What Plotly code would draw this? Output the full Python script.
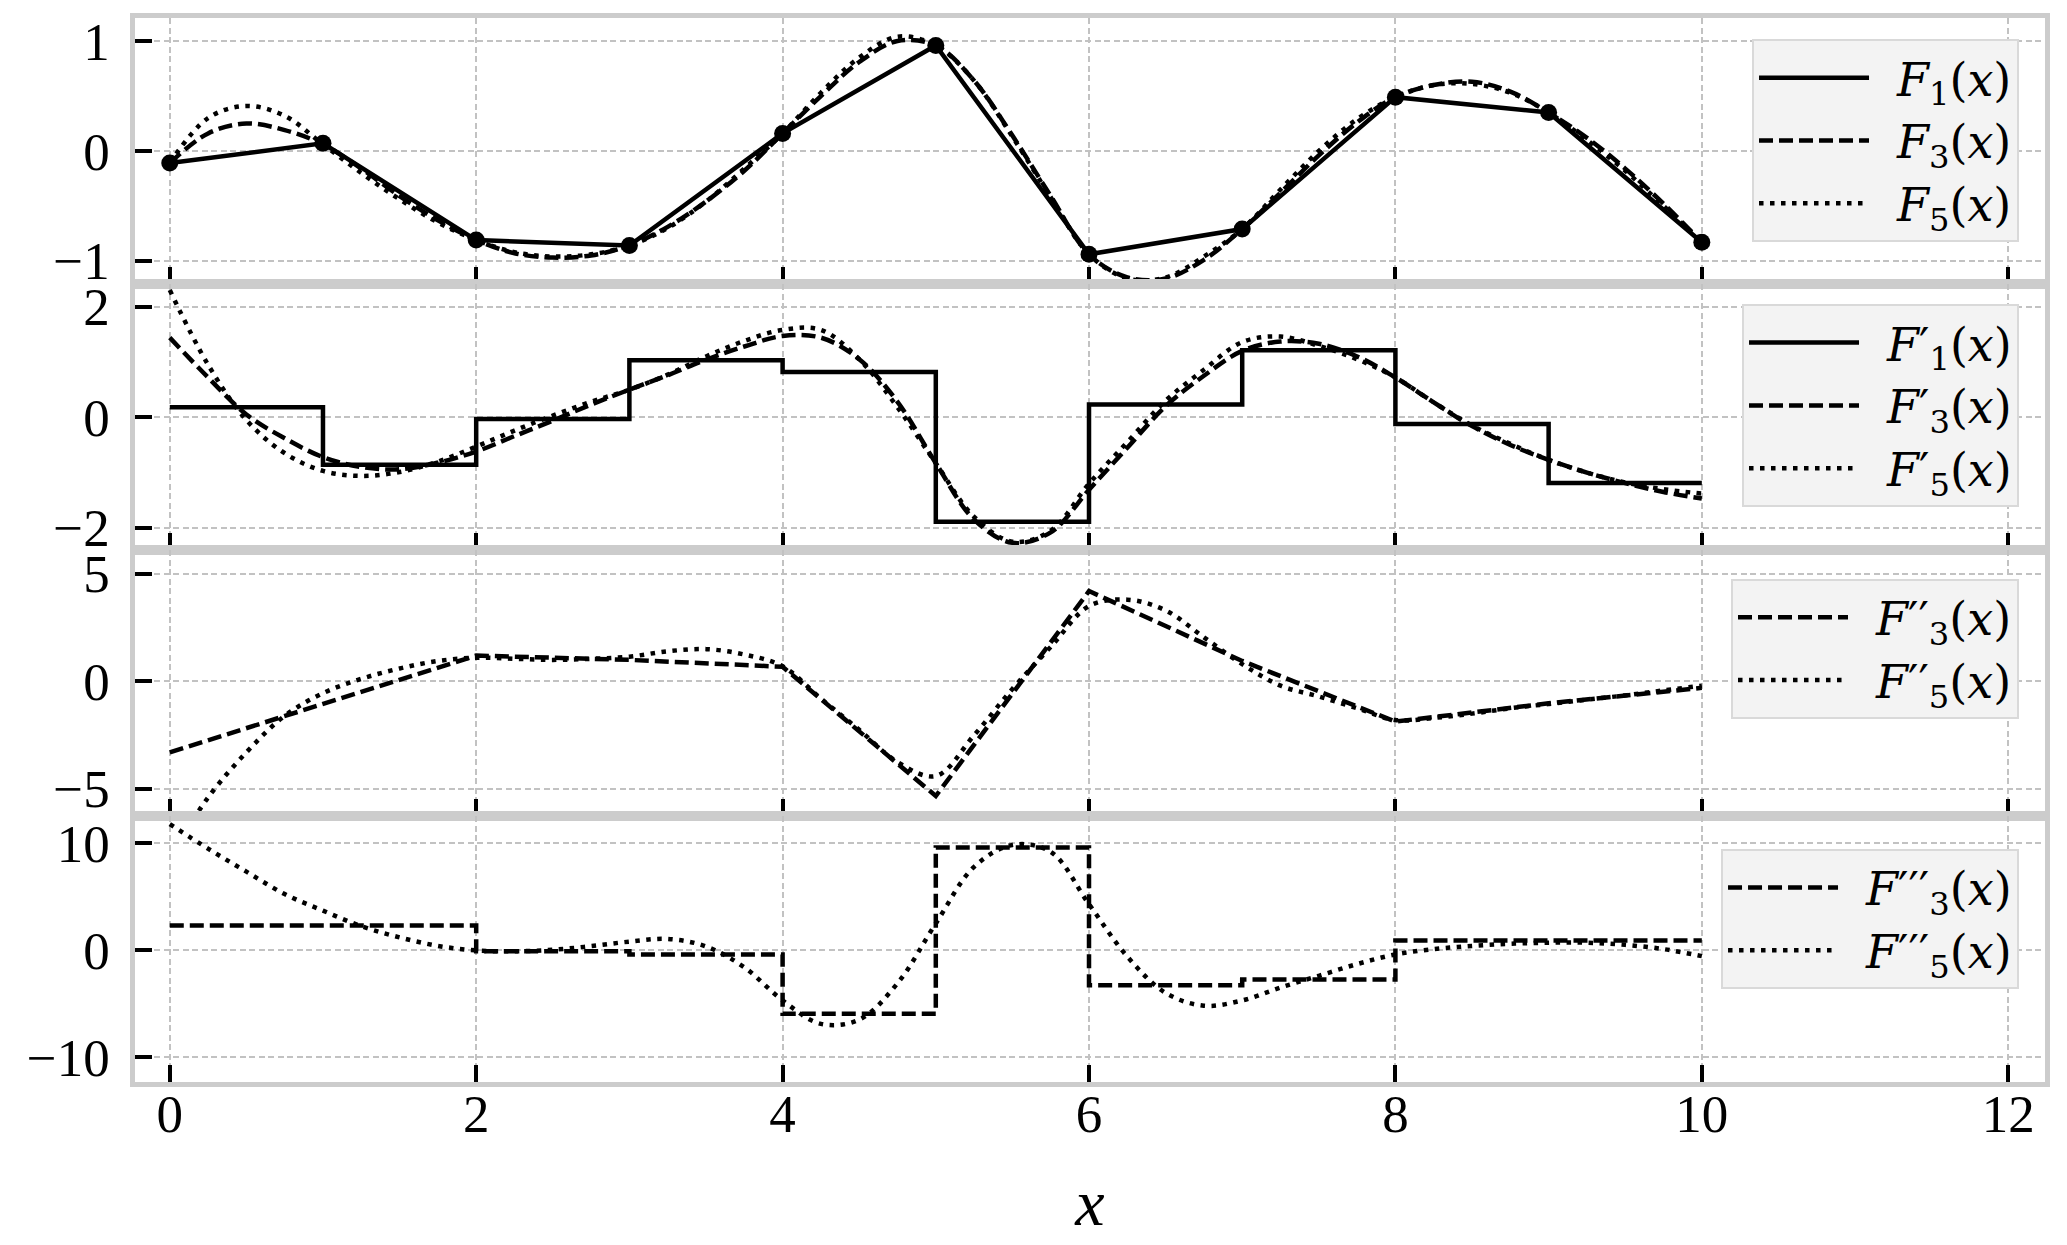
import plotly.graph_objects as go
from plotly.subplots import make_subplots

FONT = "Liberation Serif, DejaVu Serif, serif"
LEGEND_FONT = "DejaVu Serif, serif"
FS = 53
SPINE = "#cccccc"
GRID = "#c2c2c2"
LW = 4.5
DASH = "14px,6px"
DOT = "4.5px,6.5px"

# sample points and piecewise-linear interpolant
X_PTS = [0, 1, 2, 3, 4, 5, 6, 7, 8, 9, 10]
Y_PTS = [-0.11, 0.07, -0.81, -0.86, 0.16, 0.96, -0.94, -0.71, 0.49, 0.35, -0.83]

X_FINE = [0, 0.25, 0.5, 0.75, 1, 1.25, 1.5, 1.75, 2, 2.25, 2.5, 2.75, 3, 3.25,
          3.5, 3.75, 4, 4.25, 4.5, 4.75, 5, 5.25, 5.5, 5.75, 6, 6.25, 6.5,
          6.75, 7, 7.25, 7.5, 7.75, 8, 8.25, 8.5, 8.75, 9, 9.25, 9.5, 9.75, 10]

F3 = [-0.11, 0.16, 0.25, 0.19, 0.06, -0.16, -0.41, -0.63, -0.81, -0.93, -0.97,
      -0.95, -0.86, -0.69, -0.46, -0.18, 0.16, 0.50, 0.81, 1.0, 0.96, 0.64,
      0.14, -0.41, -0.94, -1.15, -1.16, -0.99, -0.71, -0.38, -0.04, 0.26, 0.49,
      0.60, 0.63, 0.54, 0.35, 0.12, -0.16, -0.48, -0.83]
F5 = [-0.11, 0.30, 0.41, 0.32, 0.06, -0.20, -0.44, -0.65, -0.81, -0.92, -0.96,
      -0.94, -0.86, -0.70, -0.46, -0.16, 0.16, 0.53, 0.85, 1.04, 0.96, 0.64,
      0.13, -0.42, -0.94, -1.16, -1.15, -0.96, -0.71, -0.35, 0.0, 0.29, 0.49,
      0.60, 0.61, 0.53, 0.35, 0.10, -0.18, -0.50, -0.83]

# first derivatives
D1_F1 = [0.18, -0.86, -0.03, 1.03, 0.82, -1.89, 0.23, 1.21, -0.12, -1.19, -1.19]
D1_F3 = [1.44, 0.72, 0.05, -0.38, -0.72, -0.90, -0.94, -0.82, -0.62, -0.34,
         -0.06, 0.23, 0.50, 0.76, 1.04, 1.28, 1.47, 1.44, 1.05, 0.28, -0.83,
         -1.85, -2.27, -2.08, -1.31, -0.55, 0.20, 0.75, 1.20, 1.37, 1.33, 1.10,
         0.72, 0.27, -0.16, -0.50, -0.77, -1.00, -1.19, -1.35, -1.47]
D1_F5 = [2.30, 0.95, -0.05, -0.65, -0.97, -1.06, -0.99, -0.80, -0.53, -0.24,
         0.03, 0.28, 0.50, 0.77, 1.10, 1.38, 1.58, 1.58, 1.05, 0.18, -0.83,
         -1.80, -2.25, -2.05, -1.20, -0.45, 0.30, 0.86, 1.36, 1.46, 1.29, 1.05,
         0.72, 0.27, -0.15, -0.48, -0.77, -1.00, -1.18, -1.30, -1.38]

# second derivatives
D2_F3 = [-3.30, -1.05, 1.20, 1.00, 0.68, -5.33, 4.20, 0.95, -1.87, -1.02, -0.30]
D2_F5 = [-8.2, -5.4, -3.3, -1.6, -0.55, 0.12, 0.60, 0.95, 1.10, 1.05, 1.0,
         1.05, 1.15, 1.40, 1.50, 1.25, 0.70, -0.80, -2.25, -3.75, -4.40, -2.50,
         -0.35, 1.60, 3.50, 3.80, 3.30, 2.05, 0.80, -0.20, -0.70, -1.25, -1.80,
         -1.70, -1.50, -1.25, -1.05, -0.85, -0.65, -0.42, -0.20]

# third derivatives
D3_F3 = [2.30, 2.30, -0.10, -0.40, -5.94, 9.60, -3.28, -2.75, 0.90, 0.90, 0.90]
D3_F5 = [11.8, 9.5, 7.35, 5.25, 3.70, 2.25, 1.20, 0.40, -0.02, -0.10, 0.04,
         0.38, 0.80, 1.05, 0.35, -1.60, -4.70, -6.90, -6.50, -3.10, 2.50, 7.80,
         9.85, 9.20, 4.30, -0.60, -4.00, -5.20, -4.70, -3.50, -2.40, -1.30,
         -0.40, 0.10, 0.40, 0.60, 0.70, 0.70, 0.50, 0.10, -0.56]

fig = make_subplots(rows=4, cols=1, shared_xaxes=True, vertical_spacing=0.0)

SP = "\u2002"  # gap between legend sample and label


def add_line(x, y, row, name, dash, shape, legend):
    fig.add_trace(
        go.Scatter(
            x=x,
            y=y,
            mode="lines",
            name=SP + name,
            line=dict(color="black", width=LW, dash=dash, shape=shape),
            legend=legend,
        ),
        row=row,
        col=1,
    )


# panel 1: interpolants
add_line(X_PTS, Y_PTS, 1, "<i>F</i><sub>1</sub>(<i>x</i>)", "solid", "linear", "legend")
add_line(X_FINE, F3, 1, "<i>F</i><sub>3</sub>(<i>x</i>)", DASH, "spline", "legend")
add_line(X_FINE, F5, 1, "<i>F</i><sub>5</sub>(<i>x</i>)", DOT, "spline", "legend")
fig.add_trace(
    go.Scatter(
        x=X_PTS,
        y=Y_PTS,
        mode="markers",
        marker=dict(color="black", size=17),
        showlegend=False,
    ),
    row=1,
    col=1,
)

# panel 2: first derivatives
add_line(X_PTS, D1_F1, 2, "<i>F</i>\u2032<sub>1</sub>(<i>x</i>)", "solid", "hv", "legend2")
add_line(X_FINE, D1_F3, 2, "<i>F</i>\u2032<sub>3</sub>(<i>x</i>)", DASH, "spline", "legend2")
add_line(X_FINE, D1_F5, 2, "<i>F</i>\u2032<sub>5</sub>(<i>x</i>)", DOT, "spline", "legend2")

# panel 3: second derivatives
add_line(X_PTS, D2_F3, 3, "<i>F</i>\u2032\u2032<sub>3</sub>(<i>x</i>)", DASH, "linear", "legend3")
add_line(X_FINE, D2_F5, 3, "<i>F</i>\u2032\u2032<sub>5</sub>(<i>x</i>)", DOT, "spline", "legend3")

# panel 4: third derivatives
add_line(X_PTS, D3_F3, 4, "<i>F</i>\u2032\u2032\u2032<sub>3</sub>(<i>x</i>)", DASH, "hv", "legend4")
add_line(X_FINE, D3_F5, 4, "<i>F</i>\u2032\u2032\u2032<sub>5</sub>(<i>x</i>)", DOT, "spline", "legend4")

axis_style = dict(
    showline=True,
    mirror=True,
    linecolor=SPINE,
    linewidth=4.5,
    showgrid=True,
    gridcolor=GRID,
    gridwidth=2,
    griddash="6px,3.5px",
    zeroline=False,
    automargin=False,
    ticks="inside",
    ticklen=17,
    tickwidth=3.5,
    tickcolor="black",
    tickfont=dict(family=FONT, size=FS, color="black"),
)

fig.update_xaxes(**axis_style, range=[-0.227, 12.24], dtick=2, tick0=0)
for r in (1, 2, 3):
    fig.update_xaxes(showticklabels=False, row=r, col=1)
fig.update_xaxes(
    row=4,
    col=1,
    ticklabelstandoff=-18,
    title=dict(text="<i>x</i>", font=dict(family=FONT, size=66, color="black"), standoff=38),
)

Y_RANGES = [[-1.21, 1.21], [-2.40, 2.41], [-6.26, 6.11], [-12.34, 12.56]]
Y_DTICKS = [1, 2, 5, 10]
for r in range(4):
    fig.update_yaxes(
        **axis_style,
        range=Y_RANGES[r],
        dtick=Y_DTICKS[r],
        tick0=0,
        ticklabelstandoff=10,
        row=r + 1,
        col=1,
    )

legend_style = dict(
    xref="paper",
    yref="paper",
    x=0.9864,
    xanchor="right",
    yanchor="top",
    bgcolor="#f3f3f3",
    bordercolor="#d9d9d9",
    borderwidth=2,
    itemwidth=110,
    font=dict(family=LEGEND_FONT, size=46, color="black"),
)

# the page body adds an 8px offset, so the margins are shifted to compensate
fig.update_layout(
    template="plotly_white",
    width=2067,
    height=1245,
    margin=dict(l=127, r=30, t=10, b=171),
    plot_bgcolor="white",
    paper_bgcolor="white",
    font=dict(family=FONT, color="black"),
    legend=dict(**legend_style, y=0.980),
    legend2=dict(**legend_style, y=0.731),
    legend3=dict(**legend_style, y=0.473),
    legend4=dict(**legend_style, y=0.219),
)

fig.write_html("out.html")
